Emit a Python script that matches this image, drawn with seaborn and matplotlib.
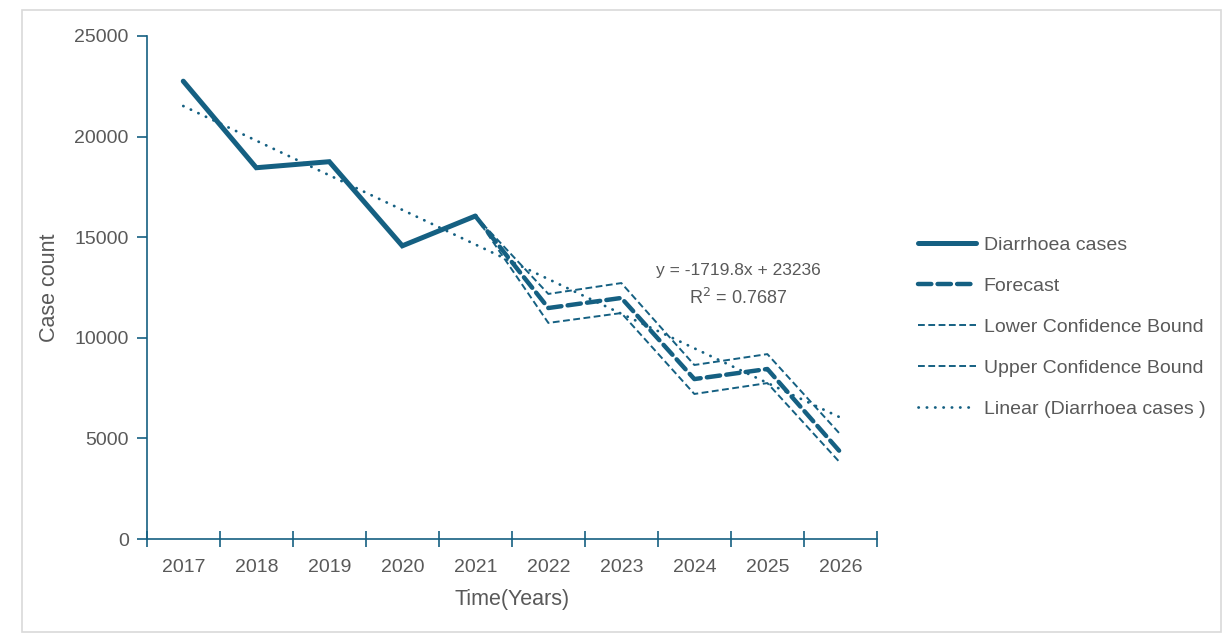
import numpy as np
import pandas as pd
import matplotlib
matplotlib.use("Agg")
import matplotlib.pyplot as plt
import seaborn as sns
from matplotlib.patches import Rectangle

# values
years = ["2017", "2018", "2019", "2020", "2021", "2022", "2023", "2024", "2025", "2026"]
cases = [22750, 18450, 18750, 14570, 16050]
forecast = [16050, 11480, 11980, 7950, 8450, 4320]
lower_bound = [16050, 10740, 11230, 7210, 7750, 3780]
upper_bound = [16050, 12180, 12720, 8650, 9190, 5200]
trend_ends = [21516, 6038]  # Excel linear trendline, first and last year

teal = "#156082"
grey = "#595959"

sns.set_style("white")
plt.rcParams["font.family"] = ["Liberation Sans", "DejaVu Sans"]

fig = plt.figure(figsize=(12.23, 6.41), dpi=100)
ax = fig.add_axes([0.120, 0.159, 0.597, 0.785])

pos = np.arange(len(years))
df_cases = pd.DataFrame({"x": pos[:5], "y": cases})
df_fc = pd.DataFrame({"x": pos[4:], "y": forecast, "lo": lower_bound, "hi": upper_bound})
df_trend = pd.DataFrame({"x": [pos[0], pos[-1]], "y": trend_ends})

sns.lineplot(data=df_cases, x="x", y="y", ax=ax, color=teal, lw=3.6,
             solid_capstyle="round", solid_joinstyle="miter", label="Diarrhoea cases")
sns.lineplot(data=df_fc, x="x", y="y", ax=ax, color=teal, lw=3.2, label="Forecast")
ax.lines[-1].set_dashes([3.0, 1.4])
ax.lines[-1].set_dash_capstyle("round")
sns.lineplot(data=df_fc, x="x", y="lo", ax=ax, color=teal, lw=1.4, label="Lower Confidence Bound")
ax.lines[-1].set_dashes([3.5, 1.8])
sns.lineplot(data=df_fc, x="x", y="hi", ax=ax, color=teal, lw=1.4, label="Upper Confidence Bound")
ax.lines[-1].set_dashes([3.5, 1.8])
sns.lineplot(data=df_trend, x="x", y="y", ax=ax, color=teal, lw=2.0, label="Linear (Diarrhoea cases )")
ax.lines[-1].set_dashes([0.1, 2.9])
ax.lines[-1].set_dash_capstyle("round")

ax.set_xlim(-0.5, len(years) - 0.5)
ax.set_ylim(0, 25000)
ax.set_yticks(range(0, 25001, 5000))
ax.set_xticks(np.arange(-0.5, len(years), 1.0))
ax.set_xticklabels([])
ax.set_xticks(pos, minor=True)
ax.set_xticklabels(years, minor=True)
ax.tick_params(axis="x", which="major", bottom=True, direction="inout", length=12,
               width=1.2, color=teal)
ax.tick_params(axis="x", which="minor", bottom=False, length=0, pad=14, labelsize=14,
               labelcolor=grey)
ax.tick_params(axis="y", left=True, direction="out", length=7, width=1.2, color=teal,
               labelsize=14, labelcolor=grey, pad=6)

for s in ["top", "right"]:
    ax.spines[s].set_visible(False)
for s in ["left", "bottom"]:
    ax.spines[s].set_color(teal)
    ax.spines[s].set_linewidth(1.2)

ax.set_xlabel("Time(Years)", fontsize=15.5, color=grey, labelpad=10)
ax.set_ylabel("Case count", fontsize=15.5, color=grey, labelpad=10)

ax.text(0.81, 0.533, "y = -1719.8x + 23236", transform=ax.transAxes, ha="center",
        va="center", fontsize=12.5, color=grey)
ax.text(0.81, 0.479, "R$^2$ = 0.7687", transform=ax.transAxes, ha="center",
        va="center", fontsize=13, color=grey)

leg = ax.legend(loc="center left", bbox_to_anchor=(1.032, 0.421), frameon=False,
                fontsize=14, handlelength=3.0, labelspacing=1.2, handletextpad=0.4)
for t in leg.get_texts():
    t.set_color(grey)

fig.add_artist(Rectangle((0.018, 0.014), 0.98, 0.97, transform=fig.transFigure,
                         fill=False, edgecolor="#d9d9d9", lw=1.2))

fig.savefig("out.png", dpi=100)
